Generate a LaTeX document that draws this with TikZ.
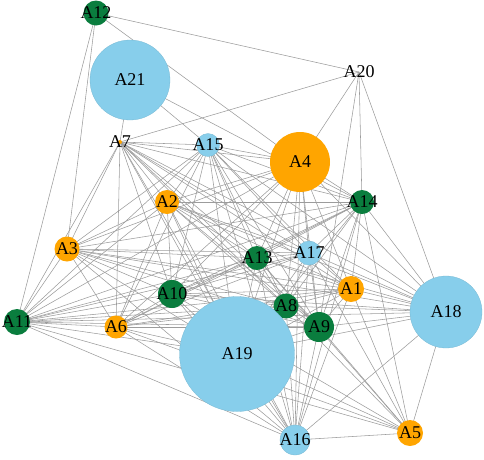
\documentclass[tikz,border=0pt]{standalone}
\usepackage{fontspec}
\setmainfont{Liberation Serif}
\usetikzlibrary{positioning}
\definecolor{skyb}{HTML}{87CEEB}
\definecolor{amber}{HTML}{FFA500}
\definecolor{leaf}{HTML}{0A7D3E}
\definecolor{wirec}{HTML}{9C9C9C}
\tikzset{edge/.style={draw=wirec,line width=0.55pt},
  bn/.style={circle,fill=skyb,draw=skyb!90!black,line width=0.3pt,inner sep=0pt},
  on/.style={circle,fill=amber,inner sep=0pt},
  gn/.style={circle,fill=leaf,inner sep=0pt},
  bare/.style={circle,inner sep=0pt},
  lab/.style={font=\fontsize{18}{18}\selectfont,inner sep=0pt,text=black}}
% name/x/y/diameter/style
\newcommand{\nodelist}{A1/351/289/26/on, A2/167/202/24/on, A3/67/249/25/on,
  A4/300/162/60/on, A5/410/433/26/on, A6/116/327/23/on, A7/120/142/4/on,
  A8/286/306/25/gn, A9/319/327/30/gn, A10/172/294/28/gn, A11/17/322/26/gn,
  A12/96/13/25/gn, A13/257/258/24/gn, A14/362/202/24/gn, A15/208/145/23/bn,
  A16/295/440/30/bn, A17/309/253/24/bn, A18/446/312/72/bn, A19/237/354/115/bn,
  A20/359/72/1/bare, A21/130/80/80/bn}
\newcommand{\corelist}{A1,A2,A3,A4,A6,A7,A8,A9,A10,A11,A13,A14,A15,A16,A17,A19}

\begin{document}
\begin{tikzpicture}[x=1pt,y=-1pt]
\useasboundingbox (0,0) rectangle (484,459);
\foreach \n/\x/\y/\d/\s in \nodelist
  \coordinate (\n) at (\x,\y);
% dense core
\foreach \a [count=\i] in \corelist {
  \foreach \b [count=\j] in \corelist {
    \ifnum\j>\i \draw[edge] (\a) -- (\b); \fi
  }
}
% outer links
\foreach \a/\b in {A12/A20, A12/A4, A12/A11, A12/A3, A21/A7, A21/A15, A21/A14,
  A20/A7, A20/A4, A20/A14, A20/A9, A20/A18}
  \draw[edge] (\a) -- (\b);
\foreach \b in {A14,A4,A7,A15,A2,A3,A13,A17,A1,A8,A9,A10,A11,A19,A16,A5}
  \draw[edge] (A18) -- (\b);
\foreach \b in {A11,A6,A10,A19,A13,A8,A9,A17,A1,A14,A16}
  \draw[edge] (A5) -- (\b);
% circles and labels
\foreach \n/\x/\y/\d/\s in \nodelist
  \node[\s,minimum size=\d pt,label={[lab]center:\n}] (c\n) at (\n) {};
\end{tikzpicture}
\end{document}
